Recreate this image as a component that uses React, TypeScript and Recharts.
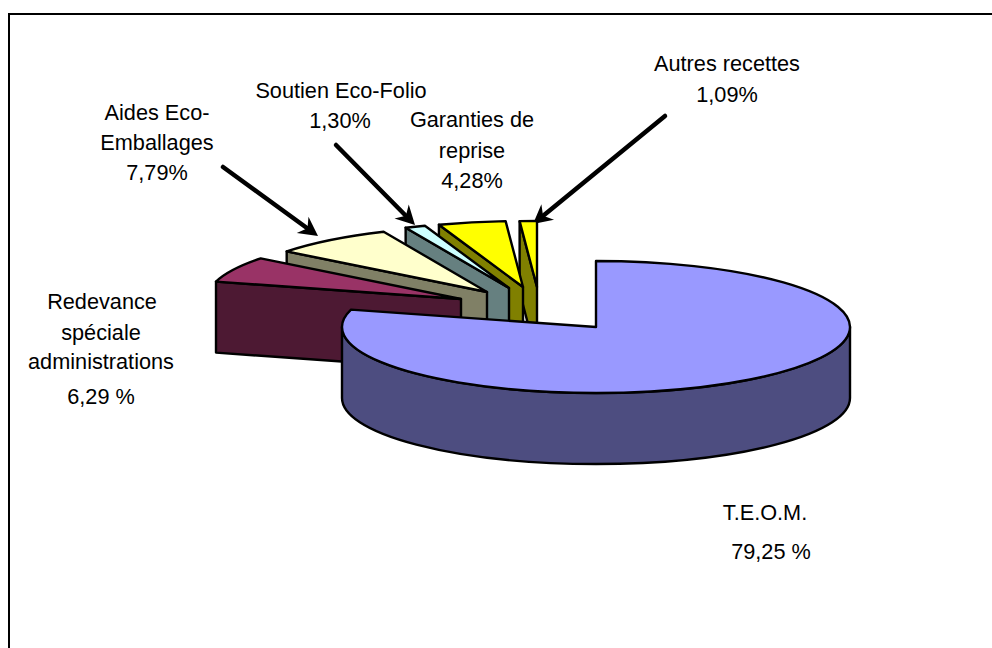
import { PieChart, Pie } from "recharts";

// slices listed counter-clockwise from 12 o'clock so T.E.O.M. paints last, on top
const names = ["Autres recettes", "Garanties de reprise", "Soutien Eco-Folio", "Aides Eco-Emballages", "Redevance spéciale administrations", "T.E.O.M."];
const shares = [1.09, 4.28, 1.3, 7.79, 6.29, 79.25];

const topColors = ["#FFFF00", "#FFFF00", "#CCFFFF", "#FFFFCC", "#993366", "#9999FF"];
const sideColors = ["#808000", "#808000", "#668080", "#808066", "#4D1933", "#4D4D80"];
// how far each slice is pulled out of the pie, in px
const pullX = [-59, -73, -87, -109, -135, 0];
const pullY = [-40, -40, -39, -35, -28, 0];

const labelLines: [string, number, number][] = [
  ["Autres recettes", 727, 71],
  ["1,09%", 727, 102],
  ["Soutien Eco-Folio", 341, 98],
  ["1,30%", 340, 128],
  ["Garanties de", 472, 127],
  ["reprise", 472, 158],
  ["4,28%", 472, 188],
  ["Aides Eco-", 157, 120],
  ["Emballages", 157, 150],
  ["7,79%", 157, 180],
  ["Redevance", 102, 309],
  ["spéciale", 101, 340],
  ["administrations", 101, 369],
  ["6,29 %", 101, 404],
  ["T.E.O.M.", 765, 520],
  ["79,25 %", 771, 559],
];

const arrows = [
  [665, 116, 533, 224],
  [336, 145, 415, 225],
  [223, 167, 318, 236],
];

const data = names.map((name, i) => ({ name, value: shares[i] }));

const RX = 254;
const RY = 66;
const DEPTH = 71;

function Slice3D(props: any) {
  const { cx, cy, startAngle, endAngle, index } = props;
  const x0 = cx + pullX[index];
  const y0 = cy + pullY[index];
  const a1 = Math.min(startAngle, endAngle);
  const a2 = Math.max(startAngle, endAngle);
  const px = (a: number) => x0 + RX * Math.cos((a * Math.PI) / 180);
  const py = (a: number) => y0 - RY * Math.sin((a * Math.PI) / 180);
  const large = a2 - a1 > 180 ? 1 : 0;
  const top = `M${x0},${y0} L${px(a1)},${py(a1)} A${RX},${RY} 0 ${large} 0 ${px(a2)},${py(a2)} Z`;
  const line = { stroke: "#000", strokeWidth: 2.4, strokeLinejoin: "round" as const };

  let side;
  if (a2 - a1 > 180) {
    // rounded outer wall, only the front half shows
    side = `M${px(180)},${py(180)} A${RX},${RY} 0 0 0 ${px(360)},${py(360)} L${px(360)},${py(360) + DEPTH} A${RX},${RY} 0 0 1 ${px(180)},${py(180) + DEPTH} Z`;
  } else {
    // flat cut face along the slice's left edge
    side = `M${x0},${y0} L${px(a2)},${py(a2)} L${px(a2)},${py(a2) + DEPTH} L${x0},${y0 + DEPTH} Z`;
  }
  return (
    <g>
      <path d={side} fill={sideColors[index]} {...line} />
      <path d={top} fill={topColors[index]} {...line} />
    </g>
  );
}

function Arrow({ x1, y1, x2, y2 }: { x1: number; y1: number; x2: number; y2: number }) {
  const t = Math.atan2(y2 - y1, x2 - x1);
  const at = (back: number, off: number) =>
    `${x2 - back * Math.cos(t) - off * Math.sin(t)},${y2 - back * Math.sin(t) + off * Math.cos(t)}`;
  return (
    <g>
      <line x1={x1} y1={y1} x2={x2 - 12 * Math.cos(t)} y2={y2 - 12 * Math.sin(t)} stroke="#000" strokeWidth={4.5} strokeLinecap="round" />
      <polygon points={`${x2},${y2} ${at(19, 10)} ${at(13, 0)} ${at(19, -10)}`} fill="#000" />
    </g>
  );
}

export default function App() {
  return (
    <div style={{ position: "absolute", left: 0, top: 0, width: 992, height: 648, background: "#fff" }}>
      <PieChart width={992} height={648} margin={{ left: 0, right: 0, top: 0, bottom: 0 }}>
        <line x1={9} y1={14} x2={992} y2={14} stroke="#000" strokeWidth={2} />
        <line x1={9} y1={13} x2={9} y2={648} stroke="#000" strokeWidth={2} />
        <Pie
          data={data}
          dataKey="value"
          nameKey="name"
          cx={596}
          cy={327}
          outerRadius={RX}
          startAngle={90}
          endAngle={450}
          paddingAngle={0}
          shape={Slice3D}
          isAnimationActive={false}
        />
        {arrows.map((a, i) => (
          <Arrow key={i} x1={a[0]} y1={a[1]} x2={a[2]} y2={a[3]} />
        ))}
        {labelLines.map(([txt, x, y]) => (
          <text key={txt} x={x} y={y} textAnchor="middle" fontFamily="Liberation Sans" fontSize={21.7} fill="#000">
            {txt}
          </text>
        ))}
      </PieChart>
    </div>
  );
}
